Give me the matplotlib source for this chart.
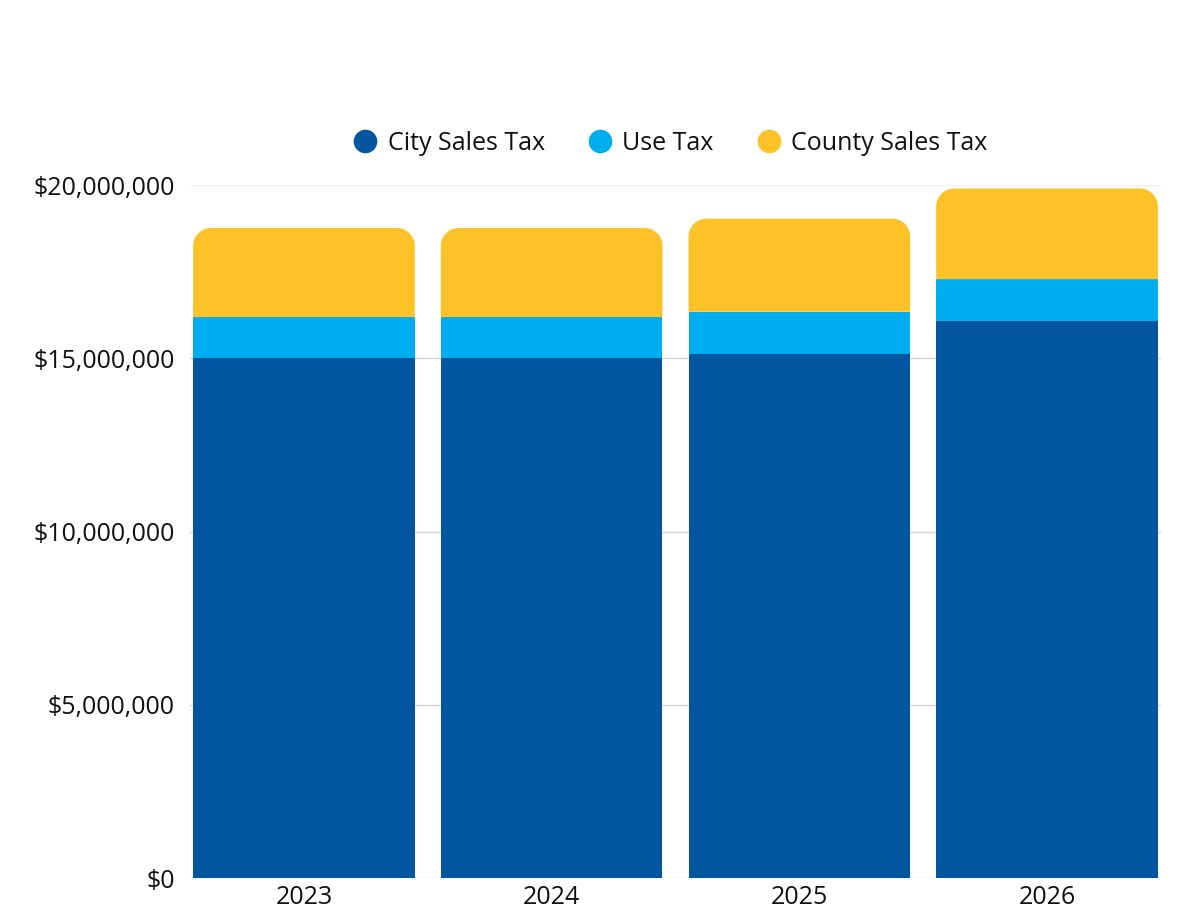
import matplotlib
matplotlib.use("Agg")
import matplotlib.pyplot as plt
from matplotlib.path import Path
from matplotlib.patches import PathPatch
from matplotlib.ticker import FuncFormatter
from matplotlib.lines import Line2D
import numpy as np

years = ["2023", "2024", "2025", "2026"]
city_sales = [15.0e6, 15.0e6, 15.12e6, 16.07e6]
use_tax = [1.19e6, 1.19e6, 1.22e6, 1.21e6]
county_sales = [2.57e6, 2.57e6, 2.69e6, 2.62e6]
series_names = ["City Sales Tax", "Use Tax", "County Sales Tax"]
colors = ["#0057A0", "#00AEEF", "#FDC228"]
yticks = [0, 5e6, 10e6, 15e6, 20e6]

plt.rcParams['font.family'] = ['Open Sans', 'DejaVu Sans']

fig = plt.figure(figsize=(11.8, 9.13), dpi=100)
ax = fig.add_axes([190/1180, 35/913, (1161-190)/1180, (878-185)/913])

x = np.arange(len(years))
w = 0.895
b1 = ax.bar(x, city_sales, width=w, color=colors[0], linewidth=0, zorder=3)
bottom2 = np.array(city_sales)
b2 = ax.bar(x, use_tax, width=w, bottom=bottom2, color=colors[1], linewidth=0, zorder=3)
bottom3 = bottom2 + np.array(use_tax)
b3 = ax.bar(x, county_sales, width=w, bottom=bottom3, color=colors[2], linewidth=0, zorder=3)

ax.set_xlim(-0.46, 3.46)
ax.set_ylim(0, 20e6)
ax.set_yticks(yticks)
ax.yaxis.set_major_formatter(FuncFormatter(lambda v, p: "${:,.0f}".format(v)))
ax.set_xticks(x)
ax.set_xticklabels(years)
ax.tick_params(axis='both', length=0, labelsize=18, colors='#111111')
ax.tick_params(axis='y', pad=11)
ax.tick_params(axis='x', pad=5)
for lab in ax.get_xticklabels() + ax.get_yticklabels():
    lab.set_fontweight('medium')
for s in ax.spines.values():
    s.set_visible(False)
for i, t in enumerate(yticks):
    ax.axhline(t, color='#f0f0f0' if i == len(yticks) - 1 else '#d6d6d6', linewidth=1, zorder=0)

# rounded top corners for the top segment
fig.canvas.draw()
r = 18
for rect in b3:
    rect.set_visible(False)
    (x0, y0), (x1, y1) = ax.transData.transform(
        [(rect.get_x(), rect.get_y()), (rect.get_x() + rect.get_width(), rect.get_y() + rect.get_height())])
    k = 0.5523 * r
    verts = [(x0, y0), (x1, y0), (x1, y1 - r),
             (x1, y1 - r + k), (x1 - r + k, y1), (x1 - r, y1),
             (x0 + r, y1),
             (x0 + r - k, y1), (x0, y1 - r + k), (x0, y1 - r),
             (x0, y0)]
    codes = [Path.MOVETO, Path.LINETO, Path.LINETO,
             Path.CURVE4, Path.CURVE4, Path.CURVE4,
             Path.LINETO,
             Path.CURVE4, Path.CURVE4, Path.CURVE4,
             Path.CLOSEPOLY]
    patch = PathPatch(Path(verts, codes), facecolor=rect.get_facecolor(), edgecolor='none',
                      transform=None, zorder=3)
    fig.add_artist(patch)

handles = [Line2D([0], [0], marker='o', linestyle='none', markersize=17,
                  markerfacecolor=c, markeredgecolor='none') for c in colors]
fig.legend(handles, series_names, loc='center', bbox_to_anchor=(0.568, 1 - 143/913),
           ncol=3, frameon=False, handlelength=1.0, handletextpad=0.4, columnspacing=1.7,
           labelcolor='#111111', prop={'size': 18, 'weight': 'medium'})

fig.savefig("out.png", dpi=100)
